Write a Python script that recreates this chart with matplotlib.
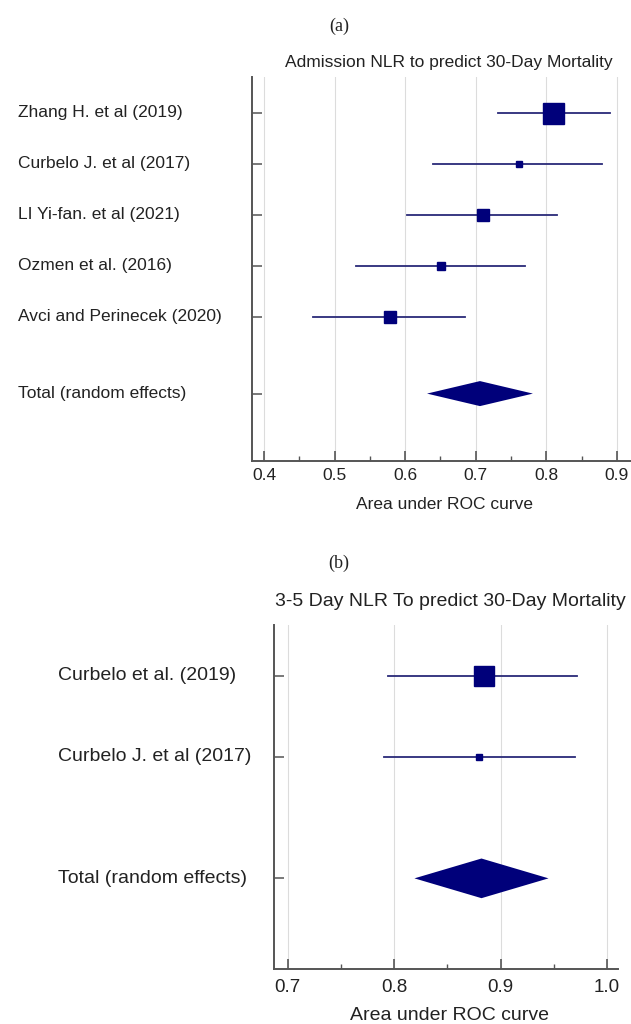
import matplotlib
matplotlib.use("Agg")
import matplotlib.pyplot as plt
from matplotlib.transforms import blended_transform_factory
from matplotlib.ticker import MultipleLocator
import numpy as np

plt.rcParams['font.family'] = ['Liberation Sans', 'DejaVu Sans']

# panel (a): admission NLR
studies_a = ["Zhang H. et al (2019)", "Curbelo J. et al (2017)", "LI Yi-fan. et al (2021)",
             "Ozmen et al. (2016)", "Avci and Perinecek (2020)"]
auc_a = [0.810, 0.761, 0.710, 0.651, 0.578]
lo_a = [0.731, 0.640, 0.603, 0.530, 0.469]
hi_a = [0.890, 0.879, 0.815, 0.770, 0.685]
weight_a = [52.4, 5.8, 17.1, 7.6, 17.1]
total_a = [0.631, 0.706, 0.781]   # lo, est, hi

# panel (b): 3-5 day NLR
studies_b = ["Curbelo et al. (2019)", "Curbelo J. et al (2017)"]
auc_b = [0.884, 0.880]
lo_b = [0.794, 0.790]
hi_b = [0.972, 0.970]
weight_b = [89.1, 10.9]
total_b = [0.819, 0.882, 0.945]

navy = "#00007a"
line_col = "#2a2a78"
spine_col = "#555555"
txt_col = "#222222"

fig = plt.figure(figsize=(6.31, 10.24), dpi=100)
W, H = 631, 1024


def px_axes(l, t, r, b):
    return fig.add_axes([l / W, 1 - b / H, (r - l) / W, (b - t) / H])


def forest(ax, names, est, lo, hi, wts, total, xlim, ylim, ticks, label_x, side_px,
           fs, tick_fs, tick_pad, xlab_y):
    n = len(names)
    ys = list(range(n)) + [n + 0.5]
    ax.set_xlim(*xlim)
    ax.set_ylim(*ylim)
    ax.xaxis.set_minor_locator(MultipleLocator(0.05))
    ax.set_xticks(ticks)
    ax.set_xticklabels(["%.1f" % t for t in ticks], fontsize=tick_fs, color=txt_col)
    ax.grid(axis="x", color="#dcdcdc", lw=0.8)
    ax.set_axisbelow(True)
    for s in ["top", "right"]:
        ax.spines[s].set_visible(False)
    for s in ["left", "bottom"]:
        ax.spines[s].set_color(spine_col)
        ax.spines[s].set_linewidth(1.4)
    ax.tick_params(axis="x", which="major", direction="in", length=7, width=1.2,
                   color=spine_col, pad=tick_pad)
    ax.tick_params(axis="x", which="minor", direction="in", length=3.5, width=1.0, color=spine_col)
    ax.set_yticks(ys)
    ax.set_yticklabels([])
    ax.tick_params(axis="y", direction="in", length=7.5, width=1.1, color=spine_col)
    ax.set_xlabel("Area under ROC curve", fontsize=fs, color=txt_col, va="center")
    ax.xaxis.set_label_coords(0.509, xlab_y)

    wmax = max(wts)
    for i in range(n):
        ax.plot([lo[i], hi[i]], [ys[i], ys[i]], color=line_col, lw=1.3, zorder=2)
        side = side_px * np.sqrt(wts[i] / wmax) * 72 / 100
        ax.plot(est[i], ys[i], marker="s", ms=side, color=navy, mec=navy, zorder=3)
    y = ys[-1]
    h = 0.245
    ax.fill([total[0], total[1], total[2], total[1]], [y, y - h, y, y + h],
            color=navy, zorder=3, lw=0)

    tr = blended_transform_factory(fig.transFigure, ax.transData)
    for name, yy in zip(names + ["Total (random effects)"], ys):
        ax.text(label_x / W, yy, name, transform=tr, ha="left", va="center",
                fontsize=fs, color=txt_col)


ax_a = px_axes(252, 77, 631, 461)
forest(ax_a, studies_a, auc_a, lo_a, hi_a, weight_a, total_a,
       (0.383, 0.92), (6.82, -0.7), [0.4, 0.5, 0.6, 0.7, 0.8, 0.9], 18, 21,
       12.5, 12.5, 5, -0.112)

ax_b = px_axes(274, 625, 618, 969)
forest(ax_b, studies_b, auc_b, lo_b, hi_b, weight_b, total_b,
       (0.687, 1.0103), (3.62, -0.63), [0.7, 0.8, 0.9, 1.0], 58, 20,
       14, 13.5, 7.5, -0.134)

serif = ["Liberation Serif", "DejaVu Serif"]
fig.text(339 / W, 1 - 26 / H, "(a)", ha="center", va="center", fontsize=13,
         family=serif, color=txt_col)
fig.text(449 / W, 1 - 62 / H, "Admission NLR to predict 30-Day Mortality", ha="center",
         va="center", fontsize=12.5, color=txt_col)
fig.text(339 / W, 1 - 563 / H, "(b)", ha="center", va="center", fontsize=13,
         family=serif, color=txt_col)
fig.text(450 / W, 1 - 602 / H, "3-5 Day NLR To predict 30-Day Mortality", ha="center",
         va="center", fontsize=14, color=txt_col)

fig.savefig("out.png", dpi=100, facecolor="white")
